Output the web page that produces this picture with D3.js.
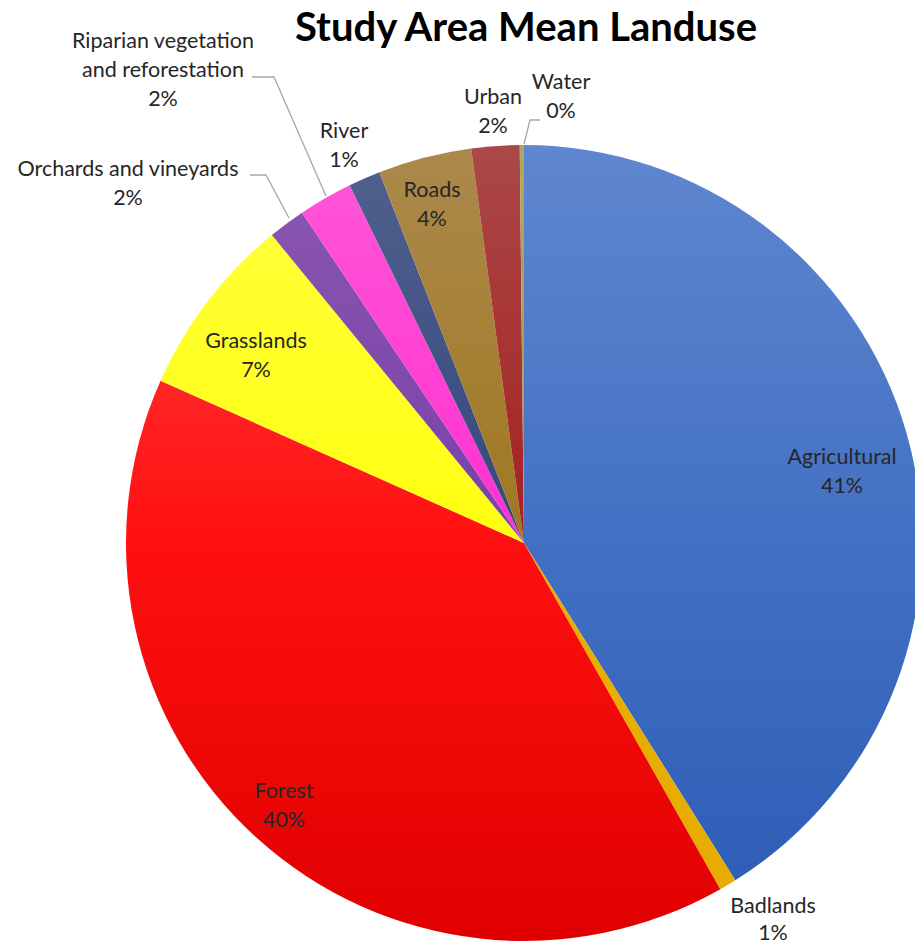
<!DOCTYPE html>
<html>
<head>
<meta charset="utf-8">
<script src="https://cdn.jsdelivr.net/npm/d3@7"></script>
<style>
  body { margin: 0; background: #fff; }
  svg { display: block; font-family: Lato, "Open Sans", sans-serif; }
</style>
</head>
<body>
<div id="chart"></div>
<script>
// Data (percent of study area), clockwise from 12 o'clock
const categories = ["Agricultural","Badlands","Forest","Grasslands","Orchards and vineyards",
  "Riparian vegetation and reforestation","River","Roads","Urban","Water"];
const values = [41.1, 0.7, 39.9, 7.4, 1.5, 2.2, 1.3, 3.8, 1.95, 0.17];
const pctLabels = ["41%","1%","40%","7%","2%","2%","1%","4%","2%","0%"];
// top / middle / bottom gradient colours per slice
const topColors = ["#5f87cf","#ecb830","#ff4444","#ffff40","#8a58b0","#ff58d8","#52618e","#ab894c","#ab4848","#b0a860"];
const midColors = ["#4370c3","#e8b000","#ff1010","#ffff10","#7a40a8","#ff30d0","#34487c","#a07820","#a52020","#a09a50"];
const botColors = ["#2c5bb5","#e6ac00","#e00000","#f0e400","#6a28a0","#ff18cc","#1f3a78","#9a6c08","#a00e0e","#9a9040"];

const W = 915, H = 947;
const cx = 524, cy = 543, R = 398;

// label layout: centre of first line, lines of text, leader line points
const labelLayout = [
  {x: 842, y: 456, lines: ["Agricultural"]},
  {x: 773, y: 905, lines: ["Badlands"], lh: 27},
  {x: 284, y: 790, lines: ["Forest"]},
  {x: 256, y: 340, lines: ["Grasslands"]},
  {x: 128, y: 168, lines: ["Orchards and vineyards"], leader: [[250,175],[266,175],[289,218]]},
  {x: 163, y: 40, lines: ["Riparian vegetation","and reforestation"], leader: [[252,77],[274,77],[326,196]]},
  {x: 344, y: 130, lines: ["River"]},
  {x: 432, y: 189, lines: ["Roads"]},
  {x: 493, y: 96, lines: ["Urban"]},
  {x: 561, y: 81, lines: ["Water"], leader: [[540,120],[530,120],[524,144]]}
];

const svg = d3.select("#chart").append("svg").attr("width", W).attr("height", H);
const defs = svg.append("defs");

// gradients live in the pie group's coordinates (origin at pie centre)
categories.forEach((c, i) => {
  const g = defs.append("linearGradient")
    .attr("id", "grad" + i)
    .attr("gradientUnits", "userSpaceOnUse")
    .attr("x1", 0).attr("x2", 0)
    .attr("y1", -R).attr("y2", R);
  g.append("stop").attr("offset", "0%").attr("stop-color", topColors[i]);
  g.append("stop").attr("offset", "50%").attr("stop-color", midColors[i]);
  g.append("stop").attr("offset", "100%").attr("stop-color", botColors[i]);
});

const pie = d3.pie().value(d => d.value).sort(null);
const arc = d3.arc().innerRadius(0).outerRadius(R);
const slices = pie(categories.map((c, i) => ({name: c, value: values[i], i})));

svg.append("g").attr("transform", `translate(${cx},${cy})`)
  .selectAll("path").data(slices).enter().append("path")
  .attr("d", arc)
  .attr("fill", d => `url(#grad${d.data.i})`);

// leader lines
const line = d3.line();
svg.append("g").selectAll("path")
  .data(labelLayout.filter(l => l.leader))
  .enter().append("path")
  .attr("d", d => line(d.leader))
  .attr("fill", "none")
  .attr("stroke", "#a6a6a6")
  .attr("stroke-width", 1.3);

// labels
const lg = svg.append("g").attr("font-size", 21.5).attr("fill", "#262626").attr("text-anchor", "middle");
labelLayout.forEach((l, i) => {
  const lh = l.lh || 29;
  const t = lg.append("text").attr("x", l.x).attr("y", l.y);
  l.lines.concat([pctLabels[i]]).forEach((s, k) => {
    t.append("tspan").attr("x", l.x).attr("y", l.y + k * lh).attr("dy", "0.35em").text(s);
  });
});

// title
svg.append("text")
  .attr("x", 526).attr("y", 27).attr("dy", "0.35em")
  .attr("text-anchor", "middle")
  .attr("font-size", 40).attr("font-weight", "bold").attr("fill", "#000")
  .text("Study Area Mean Landuse");
</script>
</body>
</html>
